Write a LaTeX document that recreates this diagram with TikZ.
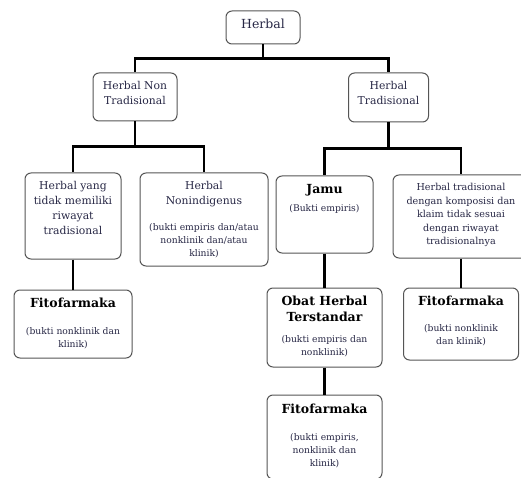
\documentclass[tikz,border=0pt]{standalone}
\usepackage{fontspec}
\setmainfont{DejaVu Serif}

\definecolor{inkblue}{RGB}{40,40,70}
\definecolor{framegray}{RGB}{85,85,85}

% box contents: width, height, text (top aligned)
\newcommand{\cellbox}[3]{\parbox[c][#2][t]{#1}{\centering\vspace*{8.5pt}#3}}
\newcommand{\head}[1]{{\fontsize{12.5}{16}\selectfont\bfseries\color{black}#1\par}}
\newcommand{\note}[1]{{\fontsize{9.2}{13}\selectfont #1\par}}

\tikzset{
  cell/.style={draw=framegray, line width=1pt, rounded corners=6pt,
    inner sep=0pt, fill=white, text=inkblue,
    font=\fontsize{10.8}{15}\selectfont},
  link/.style={line width=2.2pt, black}
}

\begin{document}
\begin{tikzpicture}[x=1pt, y=-1pt]
    \useasboundingbox (0,0) rectangle (521,478);
    \clip (0,0) rectangle (521,478);

    % Top level
    \node[cell] (herbal) at (263,27.5)
      {\cellbox{74pt}{33pt}{\fontsize{12.5}{15}\selectfont Herbal}};

    % Second level
    \node[cell] (hnt) at (135,97)
      {\cellbox{84pt}{48pt}{Herbal Non\\Tradisional}};
    \node[cell] (ht) at (388.5,97.5)
      {\cellbox{80pt}{49pt}{Herbal\\Tradisional}};

    % Third level
    \node[cell] (yang) at (73,216)
      {\cellbox{96pt}{86pt}{Herbal yang\\tidak memiliki\\riwayat\\tradisional}};
    \node[cell] (nonind) at (204,219.5)
      {\cellbox{128pt}{93pt}{Herbal\\Nonindigenus\par\vspace{13pt}%
       \note{(bukti empiris dan/atau\\nonklinik dan/atau\\klinik)}}};
    \node[cell] (jamu) at (324.5,214.5)
      {\cellbox{97pt}{77pt}{\head{Jamu}\vspace{5pt}\note{(Bukti empiris)}}};
    \node[cell] (htdeng) at (461,216.5)
      {\cellbox{136pt}{83pt}{\fontsize{9.6}{13.5}\selectfont
       Herbal tradisional\\dengan komposisi dan\\klaim tidak sesuai\\dengan riwayat\\tradisionalnya}};

    % Fourth level
    \node[cell] (fitoL) at (73,324)
      {\cellbox{118pt}{68pt}{\head{Fitofarmaka}\vspace{14pt}%
       \note{(bukti nonklinik dan\\klinik)}}};
    \node[cell] (oht) at (324.5,327.5)
      {\cellbox{115pt}{79pt}{\head{Obat Herbal\\Terstandar}\vspace{8pt}%
       \note{(bukti empiris dan\\nonklinik)}}};
    \node[cell] (fitoR) at (461,324)
      {\cellbox{115pt}{72pt}{\head{Fitofarmaka}\vspace{13pt}%
       \note{(bukti nonklinik\\dan klinik)}}};

    % Bottom level
    \node[cell] (fitoM) at (324.5,437)
      {\cellbox{115pt}{84pt}{\head{Fitofarmaka}\vspace{14pt}%
       \note{(bukti empiris,\\nonklinik dan\\klinik)}}};

    % Connectors
    \draw[link] (herbal.south) -- ++(0,14) -| (hnt.north);
    \draw[link] (herbal.south) -- ++(0,14) -| (ht.north);
    \draw[link] (hnt.south) -- ++(0,25) -| (yang.north);
    \draw[link] (hnt.south) -- ++(0,25) -| (nonind.north);
    \draw[link] (ht.south) -- ++(0,26) -| (jamu.north);
    \draw[link] (ht.south) -- ++(0,26) -| (htdeng.north);
    \draw[link] (yang.south) -- (fitoL.north);
    \draw[link] (jamu.south) -- (oht.north);
    \draw[link] (oht.south) -- (fitoM.north);
    \draw[link] (htdeng.south) -- (fitoR.north);
\end{tikzpicture}
\end{document}
